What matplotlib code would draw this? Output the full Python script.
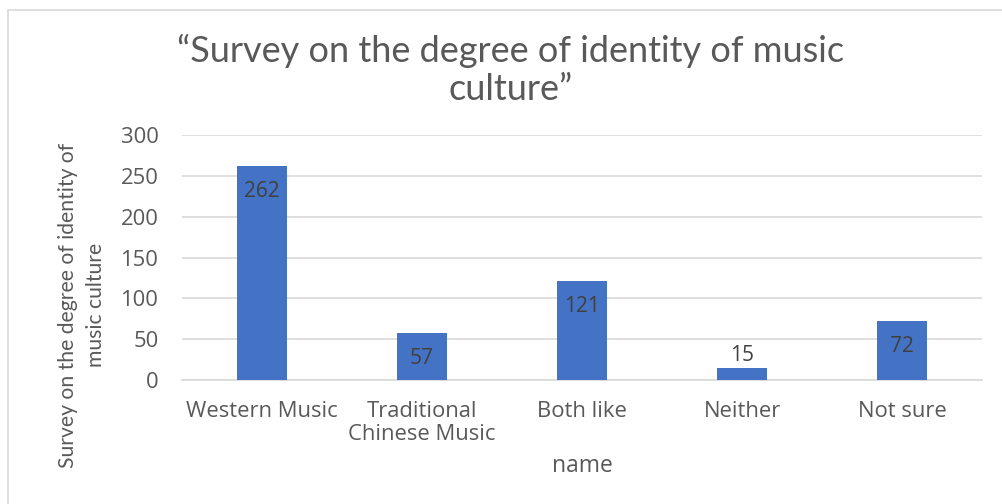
import matplotlib
matplotlib.use("Agg")
import matplotlib.pyplot as plt
from matplotlib.patches import Rectangle

categories = ["Western Music", "Traditional\nChinese Music", "Both like", "Neither", "Not sure"]
counts = [262, 57, 121, 15, 72]
yticks = [0, 50, 100, 150, 200, 250, 300]

bar_color = "#4472C4"
text_grey = "#595959"
label_grey = "#404040"

plt.rcParams["font.family"] = ["Open Sans", "DejaVu Sans"]

fig = plt.figure(figsize=(10.02, 5.04), dpi=100)
ax = fig.add_axes([182 / 1002, 1 - 380 / 504, 800 / 1002, 245 / 504])

# chart area border (runs past the right/bottom edge like the screenshot)
fig.patches.append(Rectangle((8 / 1002, -0.1), 1.2, 1 - 10 / 504 + 0.1,
                             transform=fig.transFigure, fill=False,
                             edgecolor="#D9D9D9", linewidth=1.2))

x = range(len(categories))
bars = ax.bar(x, counts, width=0.31, color=bar_color, zorder=3)

for xi, v in zip(x, counts):
    if v < 30:
        ax.annotate(str(v), (xi, v), xytext=(0, 8.5), textcoords="offset points",
                    ha="center", va="center", fontsize=15, color=label_grey)
    else:
        ax.annotate(str(v), (xi, v), xytext=(0, -18), textcoords="offset points",
                    ha="center", va="center", fontsize=15, color=label_grey, zorder=4)

ax.set_xlim(-0.5, len(categories) - 0.5)
ax.set_ylim(0, 300)
ax.set_yticks(yticks)
ax.set_xticks(list(x))
ax.set_xticklabels(categories, fontsize=15.8, color=text_grey, linespacing=1.15)
ax.tick_params(axis="y", labelsize=15.8, labelcolor=text_grey, length=0, pad=17)
ax.tick_params(axis="x", length=0, pad=15)
ax.grid(axis="y", color="#D9D9D9", linewidth=1.2, zorder=0)
for s in ["top", "right", "left"]:
    ax.spines[s].set_visible(False)
ax.spines["bottom"].set_color("#D9D9D9")
ax.spines["bottom"].set_linewidth(1.2)

fig.text(511 / 1002, 1 - 70 / 504, "\u201cSurvey on the degree of identity of music\nculture\u201d",
         ha="center", va="center", fontsize=26, color=text_grey, family=["Lato", "DejaVu Sans"],
         linespacing=1.18)

fig.text(82 / 1002, 1 - 305 / 504, "Survey on the degree of identity of\nmusic culture",
         rotation=90, ha="center", va="center", fontsize=15.2, color=text_grey,
         family=["Lato", "DejaVu Sans"], linespacing=1.45)

fig.text(582 / 1002, 1 - 466 / 504, "name", ha="center", va="center",
         fontsize=16.5, color=text_grey)

fig.savefig("out.png", dpi=100)
